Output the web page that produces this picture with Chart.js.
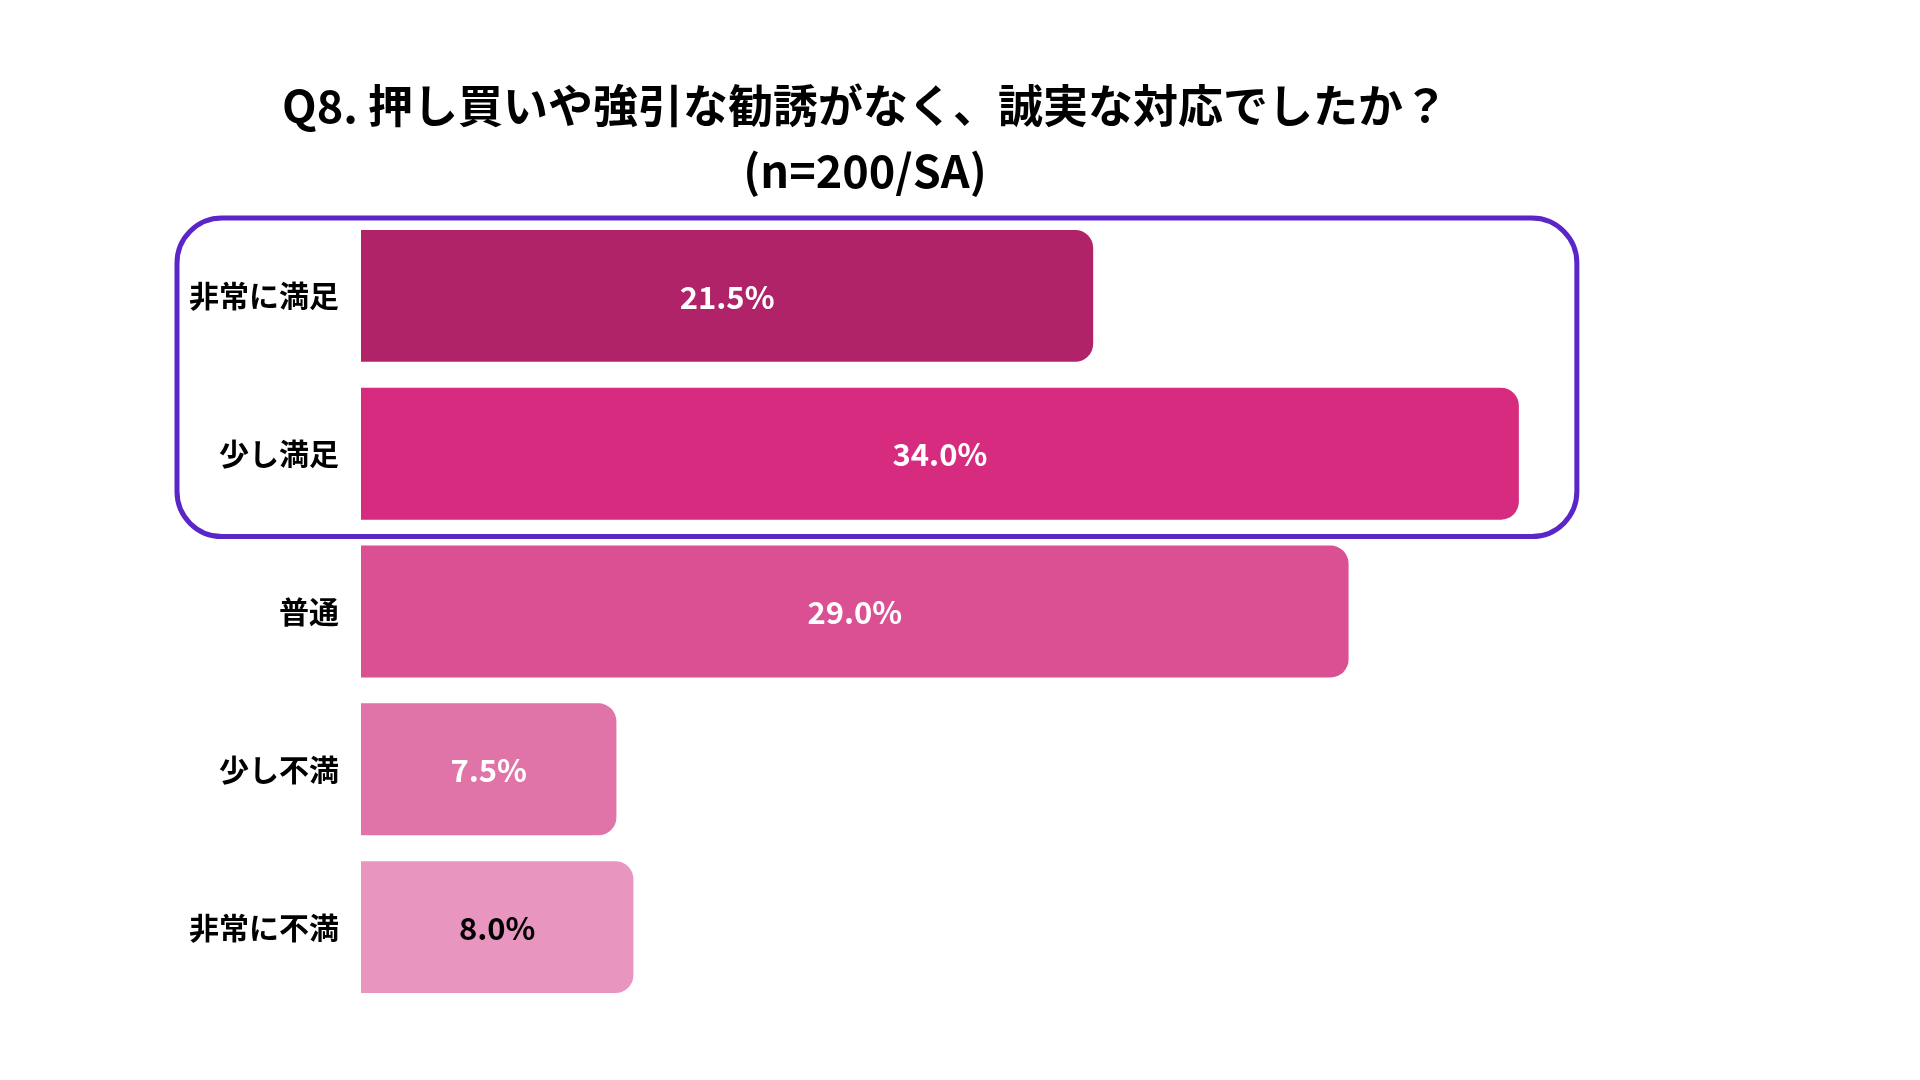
<!DOCTYPE html>
<html>
<head>
<meta charset="utf-8">
<script src="https://cdn.jsdelivr.net/npm/chart.js@4/dist/chart.umd.min.js"></script>
<style>
  html, body { margin: 0; padding: 0; background: #ffffff; }
  #wrap { width: 1920px; height: 1080px; position: relative; }
</style>
</head>
<body>
<div id="wrap"><canvas id="c" width="1920" height="1080"></canvas></div>
<script>
const titleLines = ['Q8. 押し買いや強引な勧誘がなく、誠実な対応でしたか？', '(n=200/SA)'];
const categories = ['非常に満足', '少し満足', '普通', '少し不満', '非常に不満'];
const percentValues = [21.5, 34.0, 29.0, 7.5, 8.0];
const barColors = ['#B02368', '#D62B7E', '#DB4F93', '#E073A8', '#E896BF'];
const valueLabelColors = ['#ffffff', '#ffffff', '#ffffff', '#ffffff', '#000000'];
const highlightedCategories = [0, 1];

const FONT = "'Noto Sans CJK JP', 'Noto Sans', sans-serif";

const valueLabelPlugin = {
  id: 'valueLabels',
  afterDatasetsDraw(chart) {
    const ctx = chart.ctx;
    const meta = chart.getDatasetMeta(0);
    ctx.save();
    ctx.font = "bold 31px " + FONT;
    ctx.textAlign = 'center';
    ctx.textBaseline = 'middle';
    meta.data.forEach((bar, i) => {
      const p = bar.getProps(['x', 'y', 'base'], true);
      ctx.fillStyle = valueLabelColors[i];
      ctx.fillText(percentValues[i].toFixed(1) + '%', (p.x + p.base) / 2, p.y + 1);
    });
    ctx.restore();
  }
};

const highlightBoxPlugin = {
  id: 'highlightBox',
  afterDraw(chart) {
    const y = chart.scales.y;
    const x = chart.scales.x;
    const ca = chart.chartArea;
    const first = highlightedCategories[0];
    const last = highlightedCategories[highlightedCategories.length - 1];
    const half = (y.getPixelForValue(1) - y.getPixelForValue(0)) / 2;
    const top = y.getPixelForValue(first) - half + 1;
    const bottom = y.getPixelForValue(last) + half + 4;
    const left = ca.left - 184;
    const right = x.getPixelForValue(percentValues[1]) + 58;
    const r = 45;
    const ctx = chart.ctx;
    ctx.save();
    ctx.strokeStyle = '#5B26C8';
    ctx.lineWidth = 5;
    ctx.beginPath();
    ctx.roundRect(left, top, right - left, bottom - top, r);
    ctx.stroke();
    ctx.restore();
  }
};

new Chart(document.getElementById('c'), {
  type: 'bar',
  data: {
    labels: categories,
    datasets: [{
      data: percentValues,
      backgroundColor: barColors,
      borderWidth: 0,
      borderRadius: 18,
      borderSkipped: 'start',
      barPercentage: 0.836,
      categoryPercentage: 1.0
    }]
  },
  options: {
    indexAxis: 'y',
    responsive: false,
    animation: false,
    devicePixelRatio: 1,
    layout: { padding: { left: 0, right: 190, top: 0, bottom: 74 } },
    plugins: {
      legend: { display: false },
      tooltip: { enabled: false },
      title: {
        display: true,
        text: titleLines,
        color: '#000000',
        font: { family: FONT, size: 45, weight: 'bold', lineHeight: 1.45 },
        padding: { top: 73, bottom: 13.5 }
      }
    },
    scales: {
      x: {
        display: false,
        min: 0,
        max: 40.2,
        grid: { display: false }
      },
      y: {
        grid: { display: false, drawTicks: false },
        border: { display: false },
        ticks: {
          color: '#000000',
          padding: 22,
          font: { family: FONT, size: 30, weight: 'bold' }
        },
        afterFit(scale) { scale.width = 361; }
      }
    }
  },
  plugins: [valueLabelPlugin, highlightBoxPlugin]
});
</script>
</body>
</html>
